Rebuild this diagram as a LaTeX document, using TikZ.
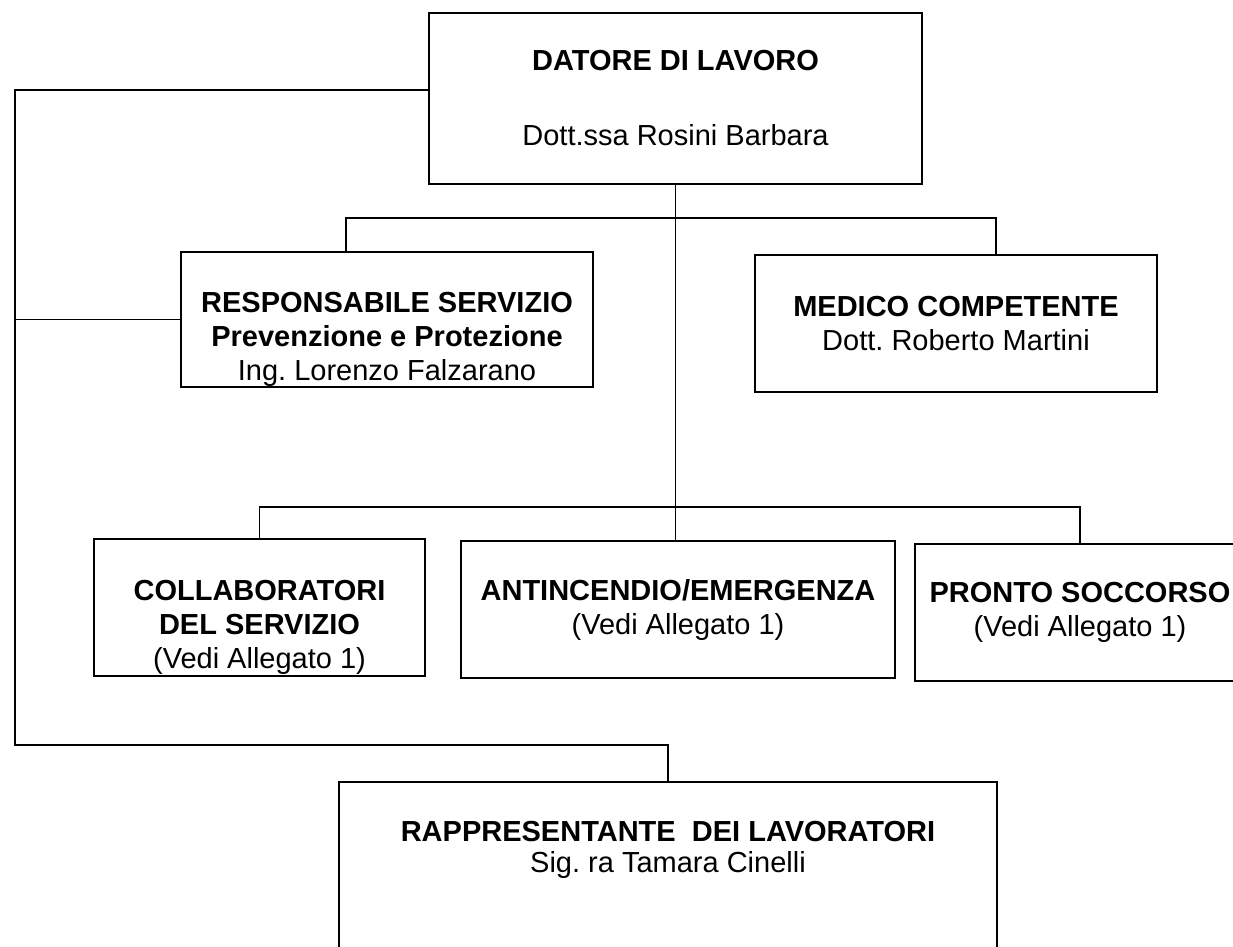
\documentclass[tikz,border=0pt]{standalone}
\usepackage{fontspec}
\setmainfont{Liberation Sans}
\frenchspacing
\begin{document}
\begin{tikzpicture}[x=1pt, y=-1pt, line width=1.8pt,
  font=\fontsize{29}{34}\selectfont,
  role/.style={draw, rectangle, align=center, inner sep=0pt}]
%%% organigramma sicurezza %%%
\useasboundingbox[fill=white] (0,0) rectangle (1233,946);
\clip (0,0) rectangle (1233,946);

      \node[role, minimum width=493pt, minimum height=171pt] (datore) at (675.5,98.5)
        {\textbf{DATORE DI LAVORO}\\[41pt] Dott.ssa Rosini Barbara};
      %%
      \node[role, minimum width=412pt, minimum height=135pt] (rspp) at (387,319.5)
        {\rule{0pt}{60pt}\textbf{RESPONSABILE SERVIZIO}\\ \textbf{Prevenzione e Protezione}\\ Ing. Lorenzo Falzarano};
      \node[role, minimum width=402pt, minimum height=137pt] (medico) at (956,323.5)
        {\textbf{MEDICO COMPETENTE}\\ Dott. Roberto Martini};
      %%
      \node[role, minimum width=331pt, minimum height=137pt] (collab) at (259.5,607.5)
        {\rule{0pt}{53pt}\textbf{COLLABORATORI}\\ \textbf{DEL SERVIZIO}\\ \smash{(Vedi Allegato 1)}};
      \node[role, minimum width=434pt, minimum height=137pt] (antinc) at (678,609.5)
        {\textbf{ANTINCENDIO/EMERGENZA}\\ (Vedi Allegato 1)};
      \node[role, minimum width=330pt, minimum height=137pt] (pronto) at (1080,612.5)
        {\textbf{PRONTO SOCCORSO}\\ (Vedi Allegato 1)};
      %%
      \node[role, minimum width=658pt, minimum height=218pt] (rls) at (668,891)
        {\textbf{RAPPRESENTANTE\ \ DEI LAVORATORI}\\[-3pt] Sig. ra Tamara Cinelli\rule[-88pt]{0pt}{88pt}};

      \coordinate (lefttop) at (15,90);
      \coordinate (leftbot) at (15,745);
      \coordinate (split1) at (675.5,218);
      \coordinate (split2) at (675.5,507);

      %% linea esterna
      \draw (datore.west |- lefttop) -- (lefttop) -- (leftbot) -| (rls.north);
      \draw (rspp.west) -- (rspp.west -| lefttop);
      %% asse centrale
      \draw (datore.south) -- (datore.south |- antinc.north);
      \draw ([xshift=-41pt]rspp.north) |- (split1) -| ([xshift=40pt]medico.north);
      \draw (collab.north) |- (split2) -| (pronto.north);

\end{tikzpicture}
\end{document}
